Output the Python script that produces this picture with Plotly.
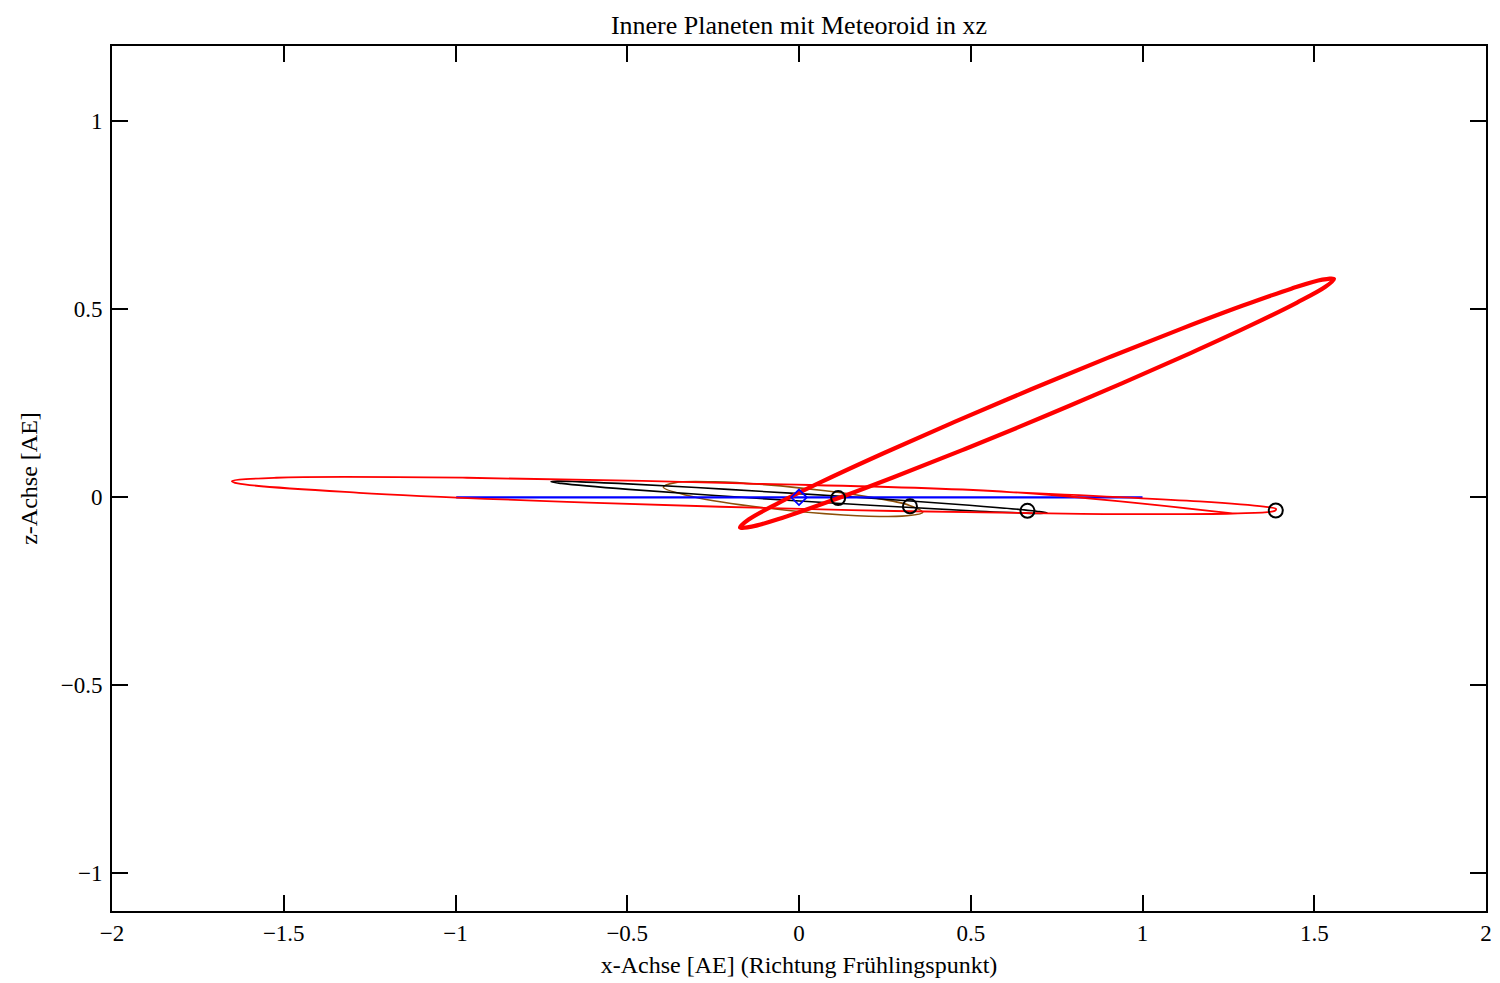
import plotly.graph_objects as go

# Bahnpunkte (x, z) in AE, Projektion auf die xz-Ebene
merkur_x = [0.21, 0.07, -0.09, -0.245, -0.36, -0.395, -0.305, -0.10, 0.13, 0.30, 0.36, 0.32, 0.21]
merkur_z = [0.000, 0.018, 0.033, 0.041, 0.039, 0.027, 0.001, -0.028, -0.047, -0.050, -0.040, -0.021, 0.000]

venus_x = [0.167, -0.207, -0.525, -0.636, -0.703, -0.722, -0.692, -0.496, -0.167,
           0.207, 0.525, 0.636, 0.703, 0.722, 0.692, 0.496, 0.167]
venus_z = [0.000, 0.021, 0.037, 0.041, 0.043, 0.041, 0.037, 0.021, 0.000,
           -0.021, -0.037, -0.041, -0.043, -0.041, -0.037, -0.021, 0.000]

erde_x = [-0.998, 1.0]
erde_z = [0.0, 0.0]

mars_x = [1.262, 0.613, -0.167, -0.967, -1.522, -1.651, -1.634, -1.281, -0.613,
          0.152, 0.822, 1.262, 1.385, 1.389, 1.354, 1.166, 0.613]
mars_z = [-0.043, 0.014, 0.037, 0.052, 0.052, 0.043, 0.037, 0.012, -0.014,
          -0.034, -0.044, -0.043, -0.036, -0.031, -0.025, -0.011, 0.014]

meteoroid_x = [1.5575, 1.5324, 1.4500, 1.3162, 1.1398, 0.9330, 0.7097, 0.4854, 0.2752,
               0.0934, -0.0474, -0.1378, -0.1717, -0.1466, -0.0642, 0.0696, 0.2460,
               0.4528, 0.6761, 0.9004, 1.1106, 1.2924, 1.4332, 1.5236, 1.5575]
meteoroid_z = [0.5805, 0.5597, 0.5179, 0.4577, 0.3835, 0.3002, 0.2134, 0.1292, 0.0533,
               -0.0093, -0.0541, -0.0781, -0.0799, -0.0591, -0.0173, 0.0429, 0.1171,
               0.2004, 0.2872, 0.3714, 0.4473, 0.5099, 0.5547, 0.5787, 0.5805]

sonne_x = [0.0]
sonne_z = [0.0]

# aktuelle Positionen der Körper
pos_x = [0.114, 0.323, 0.665, 1.388]
pos_z = [-0.002, -0.024, -0.036, -0.035]

FONT = "Liberation Serif, Times New Roman, serif"

fig = go.Figure()


def bahn(x, z, farbe, breite):
    fig.add_trace(go.Scatter(x=x, y=z, mode="lines",
                             line=dict(color=farbe, width=breite, shape="spline", smoothing=1.0),
                             hoverinfo="skip", showlegend=False))


bahn(merkur_x, merkur_z, "rgb(140,80,10)", 1.6)
bahn(venus_x, venus_z, "black", 1.6)
fig.add_trace(go.Scatter(x=erde_x, y=erde_z, mode="lines",
                         line=dict(color="blue", width=2.2), showlegend=False))
bahn(mars_x, mars_z, "red", 1.8)
bahn(meteoroid_x, meteoroid_z, "red", 4.2)

fig.add_trace(go.Scatter(x=sonne_x, y=sonne_z, mode="markers",
                         marker=dict(symbol="diamond-open", size=12, color="blue",
                                     line=dict(width=1.8, color="blue")),
                         showlegend=False))
fig.add_trace(go.Scatter(x=pos_x, y=pos_z, mode="markers",
                         marker=dict(symbol="circle-open", size=14, color="black",
                                     line=dict(width=2, color="black")),
                         showlegend=False))

achse = dict(showgrid=False, zeroline=False, showline=True, linecolor="black", linewidth=2,
             mirror="ticks", ticks="inside", ticklen=16, tickwidth=2, tickcolor="black",
             automargin=False, tickfont=dict(family=FONT, size=23, color="black"))

fig.update_layout(
    width=1500, height=983,
    margin=dict(l=112, r=14, t=46, b=72),
    paper_bgcolor="white", plot_bgcolor="white",
    font=dict(family=FONT, color="black"),
    title=dict(text="Innere Planeten mit Meteoroid in xz", x=0.5, xref="paper", xanchor="center",
               y=0.975, yanchor="middle", font=dict(family=FONT, size=26, color="black")),
    xaxis=dict(range=[-2, 2], tickvals=[-2, -1.5, -1, -0.5, 0, 0.5, 1, 1.5, 2],
               ticklabelstandoff=0,
               title=dict(text="x-Achse [AE] (Richtung Frühlingspunkt)", standoff=12,
                          font=dict(family=FONT, size=24, color="black")), **achse),
    yaxis=dict(range=[-1.1, 1.2], tickvals=[-1, -0.5, 0, 0.5, 1],
               ticklabelstandoff=3,
               title=dict(text="z-Achse [AE]", standoff=16,
                          font=dict(family=FONT, size=24, color="black")), **achse),
)

fig.write_html("out.html")
